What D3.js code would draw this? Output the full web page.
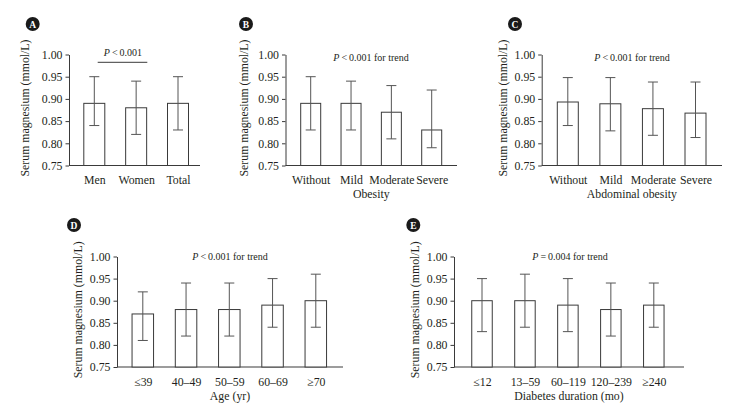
<!DOCTYPE html>
<html><head><meta charset="utf-8">
<script src="https://cdn.jsdelivr.net/npm/d3@7"></script>
<style>
body{margin:0;background:#fff;}
text{font-family:"Liberation Serif","Times New Roman",serif;fill:#231f20;}
</style></head>
<body><svg id="c" width="739" height="415"></svg>
<script>
const yTicks = [0.75, 0.80, 0.85, 0.90, 0.95, 1.00];
const yLabel = "Serum magnesium (mmol/L)";

const catA = ["Men", "Women", "Total"];
const meanA = [0.89, 0.88, 0.89];
const lowA = [0.84, 0.82, 0.83];
const highA = [0.95, 0.94, 0.95];

const catB = ["Without", "Mild", "Moderate", "Severe"];
const meanB = [0.89, 0.89, 0.87, 0.83];
const lowB = [0.83, 0.83, 0.81, 0.79];
const highB = [0.95, 0.94, 0.93, 0.92];

const catC = ["Without", "Mild", "Moderate", "Severe"];
const meanC = [0.893, 0.889, 0.878, 0.868];
const lowC = [0.84, 0.828, 0.818, 0.813];
const highC = [0.948, 0.948, 0.938, 0.938];

const catD = ["\u226439", "40\u201349", "50\u201359", "60\u201369", "\u226570"];
const meanD = [0.87, 0.88, 0.88, 0.89, 0.90];
const lowD = [0.81, 0.82, 0.82, 0.84, 0.84];
const highD = [0.92, 0.94, 0.94, 0.95, 0.96];

const catE = ["\u226412", "13\u201359", "60\u2013119", "120\u2013239", "\u2265240"];
const meanE = [0.90, 0.90, 0.89, 0.88, 0.89];
const lowE = [0.83, 0.84, 0.83, 0.82, 0.84];
const highE = [0.95, 0.96, 0.95, 0.94, 0.94];

const panels = [
  {tag:"A", cats:catA, mean:meanA, low:lowA, high:highA, xTitle:"", pItalic:"P", pRest:"\u2009<\u20090.001", sigLine:true,
   L:{ax:69, top:54.5, bot:165.5, xEnd:200, c0:94.3, cN:178, bw:21, circ:[32.7,24], ytx:25, pX:123, pY:55.5, lineY:62.3, lineX:[97.7,147.3], catY:184, titleY:198}},
  {tag:"B", cats:catB, mean:meanB, low:lowB, high:highB, xTitle:"Obesity", pItalic:"P", pRest:"\u2009<\u20090.001 for trend",
   L:{ax:285.5, top:54.5, bot:165.5, xEnd:457, c0:310.7, cN:431.7, bw:20, circ:[246,24], ytx:244, pX:371, pY:61, catY:184, titleY:198}},
  {tag:"C", cats:catC, mean:meanC, low:lowC, high:highC, xTitle:"Abdominal obesity", pItalic:"P", pRest:"\u2009<\u20090.001 for trend",
   L:{ax:541.7, top:54.5, bot:165.5, xEnd:722, c0:567.8, cN:695.5, bw:21, circ:[515,24], ytx:502.7, pX:632, pY:61, catY:184, titleY:198}},
  {tag:"D", cats:catD, mean:meanD, low:lowD, high:highD, xTitle:"Age (yr)", pItalic:"P", pRest:"\u2009<\u20090.001 for trend",
   L:{ax:117, top:256.5, bot:367, xEnd:343, c0:142.8, cN:315.8, bw:21.5, circ:[74,225], ytx:78.3, pX:230, pY:260, catY:385.5, titleY:400}},
  {tag:"E", cats:catE, mean:meanE, low:lowE, high:highE, xTitle:"Diabetes duration (mo)", pItalic:"P", pRest:"\u2009=\u20090.004 for trend",
   L:{ax:454, top:256.5, bot:367, xEnd:684, c0:482, cN:653.8, bw:20.5, circ:[413.3,225], ytx:415, pX:570, pY:260, catY:385.5, titleY:400}}
];

const svg = d3.select("#c");
const ink = "#3a3a3a";
const fs = 11.8;

panels.forEach(p => {
  const L = p.L;
  const g = svg.append("g");
  const y = d3.scaleLinear().domain([0.75, 1.00]).range([L.bot, L.top]);
  const x = d3.scalePoint().domain(p.cats).range([L.c0, L.cN]);

  const ya = g.append("g").attr("transform", `translate(${L.ax},0)`)
    .call(d3.axisLeft(y).tickValues(yTicks).tickFormat(d3.format(".2f")).tickSize(3.5).tickPadding(3).tickSizeOuter(0));
  ya.select(".domain").attr("stroke", ink);
  ya.selectAll(".tick line").attr("stroke", ink);
  ya.selectAll(".tick text").attr("font-size", fs).attr("font-family", "Liberation Serif").attr("fill", "#231f20");

  g.append("line").attr("x1", L.ax).attr("x2", L.xEnd).attr("y1", y(0.75)).attr("y2", y(0.75))
    .attr("stroke", ink).attr("stroke-width", 1);

  const xa = g.append("g").attr("transform", `translate(0,${L.catY})`)
    .call(d3.axisBottom(x).tickSize(0).tickPadding(0));
  xa.select(".domain").remove();
  xa.selectAll(".tick text").attr("font-size", fs).attr("font-family", "Liberation Serif")
    .attr("fill", "#231f20").attr("dy", 0);

  const data = p.cats.map((c, i) => ({c, m:p.mean[i], lo:p.low[i], hi:p.high[i]}));

  g.selectAll("rect.bar").data(data).enter().append("rect")
    .attr("x", d => x(d.c) - L.bw/2).attr("width", L.bw)
    .attr("y", d => y(d.m)).attr("height", d => y(0.75) - y(d.m))
    .attr("fill", "#fff").attr("stroke", ink).attr("stroke-width", 1);

  const eb = g.selectAll("g.eb").data(data).enter().append("g");
  eb.append("line").attr("x1", d => x(d.c)).attr("x2", d => x(d.c))
    .attr("y1", d => y(d.lo)).attr("y2", d => y(d.hi)).attr("stroke", "#555").attr("stroke-width", 1);
  eb.append("line").attr("x1", d => x(d.c) - 5).attr("x2", d => x(d.c) + 5)
    .attr("y1", d => y(d.hi)).attr("y2", d => y(d.hi)).attr("stroke", "#555").attr("stroke-width", 1);
  eb.append("line").attr("x1", d => x(d.c) - 5).attr("x2", d => x(d.c) + 5)
    .attr("y1", d => y(d.lo)).attr("y2", d => y(d.lo)).attr("stroke", "#555").attr("stroke-width", 1);

  const midY = (L.top + L.bot) / 2 - 2;
  g.append("text").attr("transform", `translate(${L.ytx},${midY}) rotate(-90)`)
    .attr("text-anchor", "middle").attr("dominant-baseline", "central")
    .attr("font-size", fs).text(yLabel);

  if (p.xTitle) {
    g.append("text").attr("x", (L.ax + L.xEnd) / 2).attr("y", L.titleY)
      .attr("text-anchor", "middle").attr("font-size", fs).text(p.xTitle);
  }

  const pt = g.append("text").attr("x", L.pX).attr("y", L.pY).attr("text-anchor", "middle").attr("font-size", 10);
  pt.append("tspan").attr("font-style", "italic").text(p.pItalic);
  pt.append("tspan").text(p.pRest);
  if (p.sigLine) {
    g.append("line").attr("x1", L.lineX[0]).attr("x2", L.lineX[1]).attr("y1", L.lineY).attr("y2", L.lineY)
      .attr("stroke", ink).attr("stroke-width", 1);
  }

  g.append("circle").attr("cx", L.circ[0]).attr("cy", L.circ[1]).attr("r", 7).attr("fill", "#1a1a1a");
  g.append("text").attr("x", L.circ[0]).attr("y", L.circ[1] + 0.5).attr("text-anchor", "middle")
    .attr("dominant-baseline", "central").attr("font-family", "Liberation Sans, Arial, sans-serif")
    .attr("font-weight", "bold").attr("font-size", 9.5).style("fill", "#fff").text(p.tag);
});
</script></body></html>
